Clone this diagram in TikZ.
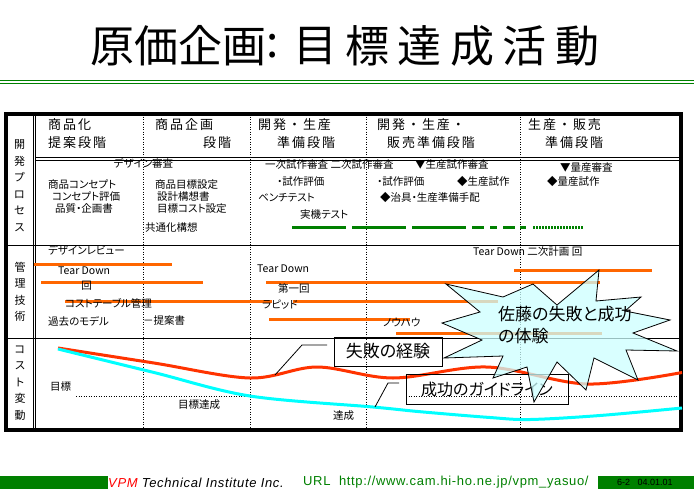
\documentclass[tikz,border=0pt]{standalone}
\usepackage{fontspec}
\setmainfont{Noto Sans CJK JP}[RawFeature={+palt}]
\newfontfamily\ttlf{Noto Sans CJK JP}
\newfontfamily\hdrf{Noto Sans CJK JP}[LetterSpace=15]
\newfontfamily\latf{Liberation Sans}[LetterSpace=5]
\newfontfamily\latsf{Liberation Sans}
\definecolor{vgreen}{RGB}{0,128,0}
\definecolor{vorange}{RGB}{255,102,0}
\definecolor{vred}{RGB}{255,51,0}
\definecolor{vcyan}{RGB}{0,255,255}
\definecolor{starfill}{RGB}{204,255,255}
\tikzset{
  ttl/.style={inner sep=0, font=\ttlf\fontsize{44}{48}\selectfont},
  hdr/.style={inner sep=0, anchor=west, font=\hdrf\fontsize{13}{15}\selectfont},
  txt/.style={inner sep=0, anchor=west, font=\fontsize{10.5}{12}\selectfont},
  vlab/.style={inner sep=0, align=center, font=\fontsize{11}{16.5}\selectfont},
  obar/.style={vorange, line width=3pt},
  gbar/.style={vgreen, line width=2.5pt},
  sep/.style={line width=0.8pt, dash pattern=on 1pt off 1.5pt},
  callout/.style={draw, line width=0.8pt, inner sep=0, font=\fontsize{17}{20}\selectfont},
  leader/.style={line width=0.8pt},
  foot/.style={inner sep=0, anchor=west, font=\latf\fontsize{13}{15}\selectfont}
}
\begin{document}
\begin{tikzpicture}[x=1pt,y=-1pt]
\useasboundingbox (0,0) rectangle (694,496);
% title
\node[ttl] (t0) at (178,46) {原価企画};
\node[ttl] (tc) at (273,46) {:};
\node[ttl] (t1) at (315,46) {目};
\node[ttl] (t2) at (367.4,46) {標};
\node[ttl] (t3) at (419.8,46) {達};
\node[ttl] (t4) at (472.2,46) {成};
\node[ttl] (t5) at (524.6,46) {活};
\node[ttl] (t6) at (577,46) {動};
\draw[vgreen, line width=1.3pt] (0,80.7) -- (694,80.7);
\draw[vgreen, line width=1.3pt] (0,83.5) -- (694,83.5);
% table frame
\draw[sep] (143,114) -- (143,430);
\draw[sep] (250,114) -- (250,430);
\draw[sep] (366.7,114) -- (366.7,430);
\draw[sep] (520,114) -- (520,430);
\draw[line width=0.8pt] (33.3,114) -- (33.3,430) (35.6,114) -- (35.6,430);
\draw[line width=0.8pt] (35.6,157.7) -- (681,157.7) (35.6,160.2) -- (681,160.2);
\draw[line width=0.8pt] (5.7,245) -- (681,245) (5.7,338) -- (681,338);
\draw[line width=4pt] (5.7,114) rectangle (681,430);
% row labels
\node[vlab] (lab1) at (19.5,186) {開\\発\\プ\\ロ\\セ\\ス};
\node[vlab] (lab2) at (20,292) {管\\理\\技\\術};
\node[vlab] (lab3) at (20,383) {コ\\ス\\ト\\変\\動};
% headers
\node[hdr] (h1a) at (48,125) {商品化};
\node[hdr] (h1b) at (48,143) {提案段階};
\node[hdr] (h2a) at (155,125) {商品企画};
\node[hdr] (h2b) at (203,143) {段階};
\node[hdr] (h3a) at (258,125) {開発・生産};
\node[hdr] (h3b) at (277,143) {準備段階};
\node[hdr] (h4a) at (377,125) {開発・生産・};
\node[hdr] (h4b) at (387,143) {販売準備段階};
\node[hdr] (h5a) at (528,125) {生産・販売};
\node[hdr] (h5b) at (545,143) {準備段階};
% row 1
\node[txt, anchor=center] (r0) at (143.5,163) {デザイン審査};
\node[txt] (r1a) at (48,185) {商品コンセプト};
\node[txt] (r1b) at (52,197) {コンセプト評価};
\node[txt] (r1c) at (55,209) {品質・企画書};
\node[txt] (r2a) at (155,185) {商品目標設定};
\node[txt] (r2b) at (157,197) {設計構想書};
\node[txt] (r2c) at (157,209) {目標コスト設定};
\node[txt] (r2d) at (145,228) {共通化構想};
\node[txt] (r3a) at (265,165) {一次試作審査\ 二次試作審査};
\node[txt] (r4a) at (415,165) {▼生産試作審査};
\node[txt] (r3b) at (277,182) {・試作評価};
\node[txt] (r4b) at (377,182) {・試作評価};
\node[txt] (r4c) at (457,182) {◆生産試作};
\node[txt] (r3c) at (258,198) {ベンチテスト};
\node[txt] (r4d) at (380,198) {◆治具・生産準備手配};
\node[txt] (r3d) at (300,215) {実機テスト};
\node[txt] (r5a) at (560,167) {▼量産審査};
\node[txt] (r5b) at (547,182) {◆量産試作};
% green progress line
\draw[gbar] (292,227.5) -- (346,227.5) (352,227.5) -- (406,227.5) (412,227.5) -- (466,227.5)
  (472,227.5) -- (484,227.5) (490,227.5) -- (497,227.5) (503,227.5) -- (515,227.5) (520,227.5) -- (526,227.5);
\draw[vgreen, line width=2.5pt, dash pattern=on 1.5pt off 1.5pt] (533,227.5) -- (583,227.5);
% row 2 bars
\draw[obar] (34,264.3) -- (172,264.3);
\draw[obar] (41,282.7) -- (203,282.7);
\draw[obar] (65,301) -- (272,301);
\draw[obar] (293,301) -- (498,301);
\draw[obar] (266,282.7) -- (600,282.7);
\draw[obar] (269,319) -- (410,319);
\draw[obar] (396,333.7) -- (602,333.7);
\draw[obar] (514,270.5) -- (652,270.5);
% row 2 texts
\node[txt] (m1) at (48,250) {デザインレビュー};
\node[txt] (m2) at (58,271) {Tear Down};
\node[txt, anchor=center] (m3) at (86.5,286) {回};
\node[txt] (m4) at (65,303) {コストテーブル管理};
\node[txt] (m5) at (48,321) {過去のモデル};
\node[txt] (m6) at (143,321) {－提案書};
\node[txt] (m7) at (257,269) {Tear Down};
\node[txt] (m8) at (278,288) {第一回};
\node[txt] (m9) at (262,305) {ラピッド};
\node[txt] (m10) at (383,322) {ノウハウ};
\node[txt] (m11) at (473,252) {Tear Down 二次計画 回};
% row 3
\draw[sep] (76,396) -- (250,396);
\draw[sep] (406,396) -- (678,396);
\node[txt] (c1) at (50,387) {目標};
\node[txt] (c2) at (178,405) {目標達成};
\node[txt] (c3) at (333,416) {達成};
\draw[vred, line width=3pt] plot[smooth, tension=0.55] coordinates {(58,348) (154,363) (250,378) (317,367) (393,378) (487,367) (587,384) (682,372.5)};
\draw[vcyan, line width=3pt] plot[smooth, tension=0.55] coordinates {(58,349) (154,372.5) (250,396) (373,407) (420,411.7) (490,417.5) (530,419.5) (600,415.5) (682,408)};
% callouts
\node[callout, minimum width=108, minimum height=29] (box1) at (388,351.5) {失敗の経験};
\node[callout, minimum width=162, minimum height=30, font=\fontsize{16}{19}\selectfont] (box2) at (487,389) {成功のガイドライン};
\coordinate (l1a) at (327,345);
\coordinate (l1b) at (302,345);
\coordinate (l1c) at (275,375);
\draw[leader] (l1a) -- (l1b) -- (l1c);
\coordinate (l2a) at (399,383);
\coordinate (l2b) at (388,383);
\coordinate (l2c) at (375,407);
\draw[leader] (l2a) -- (l2b) -- (l2c);
% star
\draw[line width=0.8pt, fill=starfill, fill opacity=0.75]
  (599,270) -- (596,301) -- (641,297) -- (625,311) -- (670,320) -- (633,333) -- (677,351)
  -- (626,350) -- (638,380) -- (594,358) -- (586,390) -- (557,362) -- (534,402) -- (527,367)
  -- (493,378) -- (503,356) -- (444,358) -- (482,340) -- (442,323) -- (480,312) -- (446,284)
  -- (503,297) -- (533,284) -- (557,305) -- cycle;
\node[inner sep=0, anchor=north west, align=left, font=\fontsize{17}{22}\selectfont] (startxt) at (498,306) {佐藤の失敗と成功\\の体験};
% footer
\fill[vgreen] (0,476) rectangle (108,489);
\fill[vgreen] (598,476) rectangle (694,489);
\node[foot] (f1) at (108,482.5) {\textcolor{red}{\itshape VPM} \itshape Technical Institute Inc.};
\node[foot, text=vgreen] (f2) at (303,482.5) {URL\ \ http://www.cam.hi-ho.ne.jp/vpm\_yasuo/};
\node[foot, font=\latsf\fontsize{9}{11}\selectfont] (f3) at (617,482.5) {6-2\ \ \ 04.01.01};
\end{tikzpicture}
\end{document}
